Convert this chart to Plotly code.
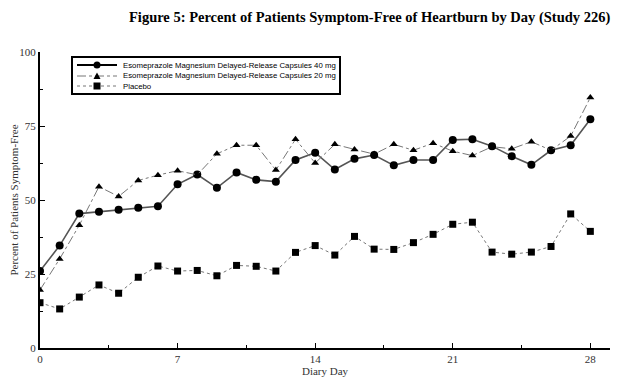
import plotly.graph_objects as go

days = list(range(29))
esome40 = [26.0, 34.6, 45.4, 46.0, 46.7, 47.4, 47.9, 55.3, 58.6, 54.1, 59.3, 56.8, 56.2, 63.5, 66.0,
           60.3, 63.9, 65.2, 61.7, 63.5, 63.5, 70.3, 70.5, 68.2, 64.8, 61.9, 66.8, 68.5, 77.3]
esome20 = [19.6, 30.1, 41.5, 54.5, 51.2, 56.6, 58.4, 59.9, 58.5, 65.6, 68.5, 68.5, 60.1, 70.5, 62.5,
           68.8, 67.1, 65.5, 68.8, 66.8, 69.2, 66.5, 65.0, 68.0, 67.3, 69.7, 66.8, 71.6, 84.6]
placebo = [15.3, 13.2, 17.2, 21.3, 18.5, 23.9, 27.7, 26.0, 26.2, 24.4, 27.9, 27.6, 26.0, 32.3, 34.6,
           31.4, 37.7, 33.4, 33.3, 35.6, 38.4, 41.8, 42.5, 32.4, 31.7, 32.4, 34.3, 45.3, 39.4]
names = ["Esomeprazole Magnesium Delayed-Release Capsules 40 mg",
         "Esomeprazole Magnesium Delayed-Release Capsules 20 mg",
         "Placebo"]
title_text = "Figure 5: Percent of Patients Symptom-Free of Heartburn by Day (Study 226)"
x_ticks = [0, 7, 14, 21, 28]
y_ticks = [0, 25, 50, 75, 100]

# page body has an 8px margin, so the figure is drawn offset by (8, 8) in the window
OX = OY = 8
W, H = 621 - OX, 385 - OY
ML, MR, MT, MB = 40 - OX, 11, 52 - OY, 37
PW, PH = W - ML - MR, H - MT - MB

styles = [
    dict(line=dict(color="#555555", width=1.6, dash="solid"), marker=dict(symbol="circle", size=8, color="black")),
    dict(line=dict(color="#777777", width=1, dash="dashdot"), marker=dict(symbol="triangle-up", size=7, color="black")),
    dict(line=dict(color="#777777", width=1, dash="3px,3px"), marker=dict(symbol="square", size=7, color="black")),
]

fig = go.Figure()
for name, ys, st in zip(names, [esome40, esome20, placebo], styles):
    fig.add_trace(go.Scatter(x=days, y=ys, name=name, mode="lines+markers",
                             line=st["line"], marker=st["marker"], showlegend=False))


def px(x):
    # window pixel x -> paper coordinate
    return (x - OX - ML) / PW


def py(y):
    # window pixel y -> paper coordinate
    return (OY + H - MB - y) / PH


shapes = []
annotations = []
shapes.append(dict(type="rect", xref="paper", yref="paper", x0=px(72), x1=px(340), y0=py(94), y1=py(57),
                   line=dict(color="black", width=2), fillcolor="white", layer="above"))
rows = [65, 76, 86]
for name, row, st in zip(names, rows, styles):
    ln = st["line"]
    solid = ln["dash"] == "solid"
    shapes.append(dict(type="line", xref="paper", yref="paper", x0=px(77), x1=px(117), y0=py(row), y1=py(row),
                       line=dict(color="black" if solid else ln["color"], width=2 if solid else 1,
                                 dash=ln["dash"]), layer="above"))
    sym = st["marker"]["symbol"]
    r = 3.5
    if sym == "circle":
        shapes.append(dict(type="circle", xref="paper", yref="paper", x0=px(97 - r), x1=px(97 + r),
                           y0=py(row + r), y1=py(row - r), fillcolor="black", line=dict(width=0), layer="above"))
    elif sym == "square":
        shapes.append(dict(type="rect", xref="paper", yref="paper", x0=px(97 - r), x1=px(97 + r),
                           y0=py(row + r), y1=py(row - r), fillcolor="black", line=dict(width=0), layer="above"))
    else:
        path = "M {} {} L {} {} L {} {} Z".format(px(97 - r), py(row + r - 0.5), px(97 + r), py(row + r - 0.5),
                                                 px(97), py(row - r))
        shapes.append(dict(type="path", xref="paper", yref="paper", path=path, fillcolor="black",
                           line=dict(width=0), layer="above"))
    annotations.append(dict(text=name, xref="paper", yref="paper", x=px(122), y=py(row), xanchor="left",
                            yanchor="middle", showarrow=False, borderpad=0,
                            font=dict(family="Liberation Sans", size=7.8, color="black")))

annotations.append(dict(text="<b>" + title_text + "</b>", xref="paper", yref="paper",
                        x=px(128), y=py(17), xanchor="left", yanchor="middle", showarrow=False, borderpad=0,
                        font=dict(family="Liberation Serif", size=14.5, color="black")))

serif = "Liberation Serif"
fig.update_layout(
    width=W, height=H,
    margin=dict(l=ML, r=MR, t=MT, b=MB),
    paper_bgcolor="white", plot_bgcolor="white",
    showlegend=False,
    shapes=shapes,
    annotations=annotations,
    xaxis=dict(range=[0, 29], tickvals=x_ticks, ticktext=[str(v) for v in x_ticks], automargin=False,
               showgrid=False, zeroline=False, showline=True, linecolor="black", linewidth=2,
               ticks="inside", ticklen=5, tickcolor="black",
               minor=dict(dtick=3.5, tick0=0, ticks="inside", ticklen=3, tickcolor="black", showgrid=False),
               tickfont=dict(family=serif, size=11, color="#333333"),
               title=dict(text="Diary Day", font=dict(family=serif, size=11, color="#333333"), standoff=0)),
    yaxis=dict(range=[0, 100], tickvals=y_ticks, ticktext=[str(v) for v in y_ticks], automargin=False,
               showgrid=False, zeroline=False, showline=True, linecolor="black", linewidth=2,
               ticks="inside", ticklen=5, tickcolor="black",
               minor=dict(dtick=12.5, tick0=0, ticks="inside", ticklen=3, tickcolor="black", showgrid=False),
               tickfont=dict(family=serif, size=11, color="#333333"),
               title=dict(text="Percent of Patients Symptom-Free", font=dict(family=serif, size=11, color="#333333"), standoff=2)),
)

fig.write_html("out.html")
